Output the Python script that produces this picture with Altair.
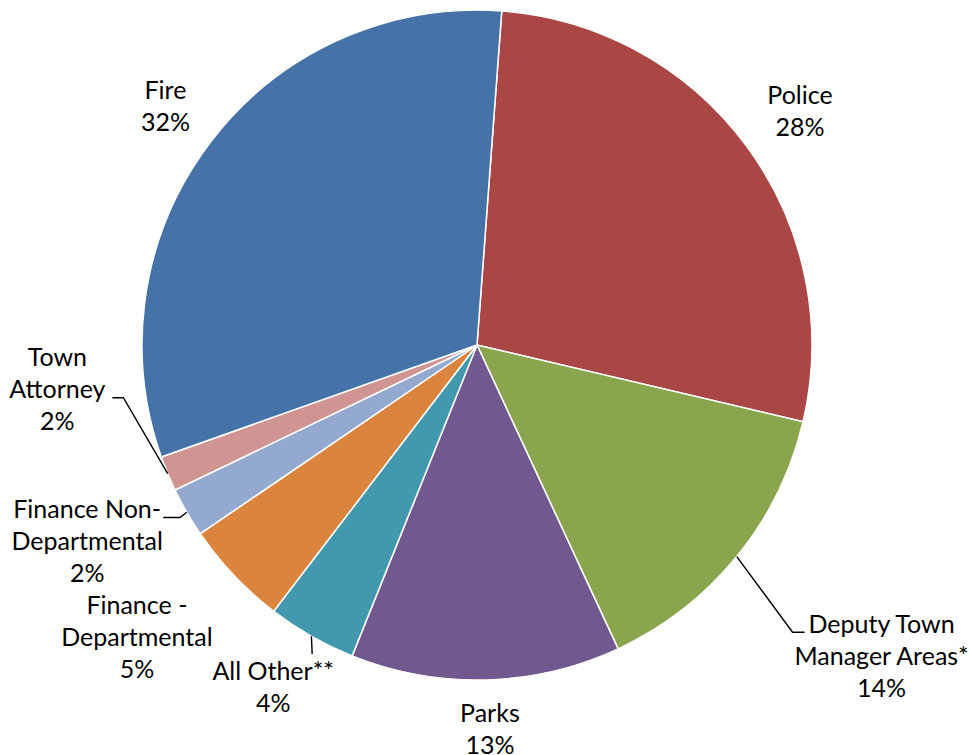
import math
import pandas as pd
import altair as alt

# ---- data ----
categories = ["Police", "Deputy Town Manager Areas*", "Parks", "All Other**",
              "Finance - Departmental", "Finance Non-Departmental", "Town Attorney", "Fire"]
label_names = ["Police", "Deputy Town\nManager Areas*", "Parks", "All Other**",
               "Finance -\nDepartmental", "Finance Non-\nDepartmental", "Town\nAttorney", "Fire"]
values = [27.5, 14.4, 13.0, 4.3, 5.1, 2.4, 1.7, 31.6]
colors = ["#AA4744", "#89A54E", "#71588F", "#4198AF",
          "#DB843D", "#93A9CF", "#D09493", "#4572A7"]

# ---- layout (styling) ----
W, H = 954, 690
CX, CY = W / 2, H / 2
R = 335
START_DEG = 4.24
LH = 32
# label placement: (radius of label block centre, angular nudge in degrees)
label_place = {
    "Police": (398, 0.5),
    "Deputy Town Manager Areas*": (511, -1.5),
    "Parks": (385, -0.4),
    "All Other**": (399, 1.1),
    "Finance - Departmental": (449, 2.7),
    "Finance Non-Departmental": (437, 3.1),
    "Town Attorney": (422, 16.5),
    "Fire": (392, 0.0),
}
# leader lines: elbow and tail end offsets from label block centre
leaders = {
    "Deputy Town Manager Areas*": [(-89, -25), (-77, -25)],
    "Town Attorney": [(66, 8), (55, 8)],
    "Finance Non-Departmental": [(93, -25), (76, -25)],
    "All Other**": [(39, -34)],
}

total = sum(values)
rows, lab_rows, lead_rows = [], [], []
cum = 0.0
for i, (c, ln, v) in enumerate(zip(categories, label_names, values)):
    mid = START_DEG + 360 * (cum + v / 2) / total
    cum += v
    rows.append({"name": c, "value": v, "idx": i})
    r, nud = label_place[c]
    a = math.radians(mid + nud)
    lx = CX + r * math.sin(a)
    ly = CY - r * math.cos(a)
    text = f"{ln}\n{v:.0f}%"
    n = text.count("\n") + 1
    lab_rows.append({"name": c, "label": text, "lx": lx, "ly": ly - (n - 1) * LH / 2})
    if c in leaders:
        am = math.radians(mid)
        pts = [(CX + R * math.sin(am), CY - R * math.cos(am))]
        pts += [(lx + dx, ly + dy) for dx, dy in leaders[c]]
        for k, (px, py) in enumerate(pts):
            lead_rows.append({"seg": c, "ord": k, "x": px, "y": py})

df = pd.DataFrame(rows)
ldf = pd.DataFrame(lab_rows)
lead = pd.DataFrame(lead_rows)

a0 = math.radians(START_DEG)
arcs = alt.Chart(df).mark_arc(outerRadius=R, stroke="white", strokeWidth=1.5).encode(
    theta=alt.Theta("value:Q", stack=True,
                    scale=alt.Scale(domain=[0, total], range=[a0, a0 + 2 * math.pi])),
    color=alt.Color("name:N", scale=alt.Scale(domain=categories, range=colors), legend=None),
    order=alt.Order("idx:Q"),
)

texts = alt.Chart(ldf).mark_text(
    font="Lato", fontSize=25, lineHeight=LH, align="center", baseline="middle",
    color="#000000", lineBreak="\n"
).encode(
    x=alt.X("lx:Q", scale=None, axis=None),
    y=alt.Y("ly:Q", scale=None, axis=None),
    text="label:N",
)

lines = alt.Chart(lead).mark_line(color="black", strokeWidth=1.4).encode(
    x=alt.X("x:Q", scale=None, axis=None),
    y=alt.Y("y:Q", scale=None, axis=None),
    detail="seg:N",
    order="ord:Q",
)

chart = alt.layer(arcs, lines, texts).properties(
    width=W, height=H, autosize="none",
    padding={"left": 0, "top": 0, "right": 970 - W, "bottom": 755 - H},
).configure_view(stroke=None)

chart.save("out.html", embed_options={"renderer": "svg", "actions": False})
